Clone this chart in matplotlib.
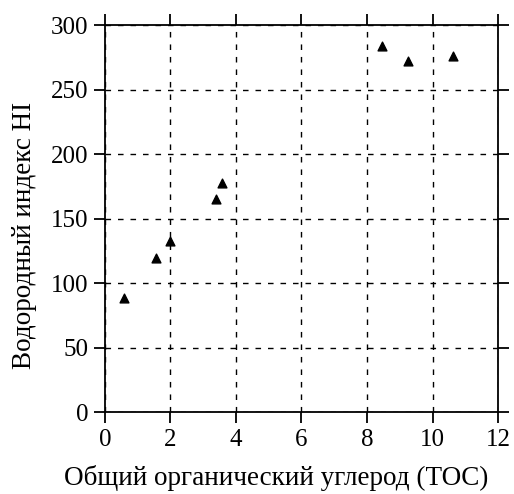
import matplotlib
matplotlib.use("Agg")
import matplotlib.pyplot as plt

toc = [0.59, 1.57, 1.98, 3.39, 3.59, 8.45, 9.26, 10.62]
hi = [89, 120, 133, 165, 178, 284, 272, 276]
xticks = [0, 2, 4, 6, 8, 10, 12]
yticks = [0, 50, 100, 150, 200, 250, 300]

plt.rcParams['font.family'] = ['Liberation Serif', 'DejaVu Serif']
fig = plt.figure(figsize=(5.14, 4.94), dpi=100)
ax = fig.add_axes([0.204, 0.165, 0.765, 0.784])
ax.scatter(toc, hi, marker='^', s=40, color='black', zorder=3)
ax.set_xlim(0, 12)
ax.set_ylim(0, 300)
ax.set_xticks(xticks)
ax.set_yticks(yticks)
ax.grid(True, linestyle=(0, (4, 5)), color='black', linewidth=1.0)
for s in ax.spines.values():
    s.set_linewidth(1.3)
ax.tick_params(direction='out', length=8, width=1.3, labelsize=18,
               top=True, right=True, pad=4)
ax.set_xlabel('Общий органический углерод (TOC)', fontsize=19.5, labelpad=8)
ax.xaxis.set_label_coords(0.435, -0.135)
ax.set_ylabel('Водородный индекс HI', fontsize=19.5, labelpad=6)
ax.yaxis.set_label_coords(-0.172, 0.457)
fig.savefig('out.png', dpi=100)
